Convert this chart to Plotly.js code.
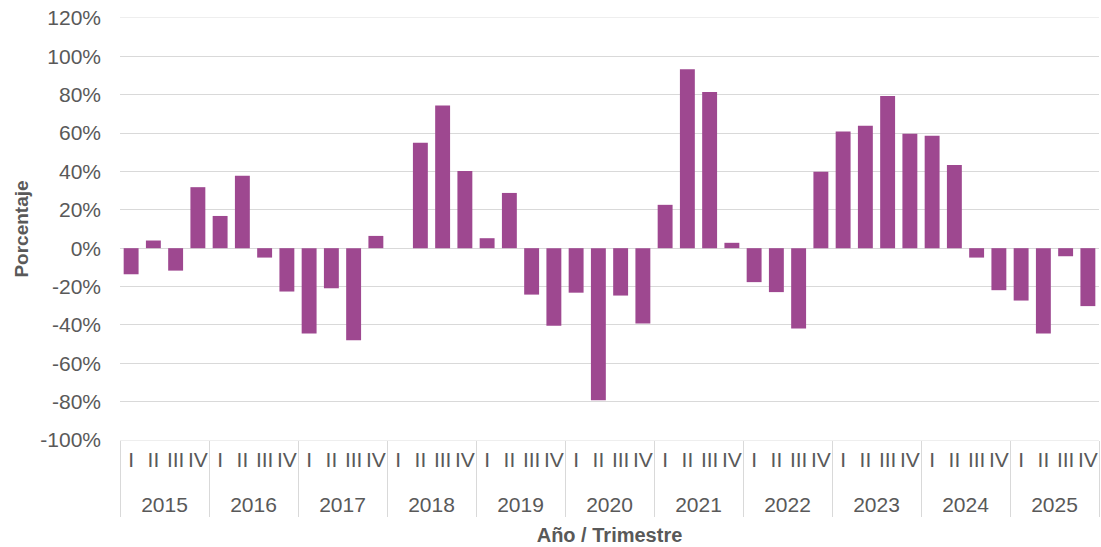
<!DOCTYPE html>
<html>
<head>
<meta charset="utf-8">
<script src="https://cdn.plot.ly/plotly-3.0.1.min.js"></script>
<style>html,body{margin:0;padding:0;background:#fff;}#chart{width:1101px;height:547px;}</style>
</head>
<body>
<div id="chart"></div>
<script>
var years = ['2015','2016','2017','2018','2019','2020','2021','2022','2023','2024','2025'];
var quarters = ['I','II','III','IV'];
var values2015 = [-13.6, 4.0, -11.7, 31.8];
var values2016 = [16.8, 37.7, -4.9, -22.6];
var values2017 = [-44.5, -20.9, -48.0, 6.4];
var values2018 = [0, 54.9, 74.4, 40.2];
var values2019 = [5.2, 28.8, -24.2, -40.4];
var values2020 = [-23.2, -79.3, -24.7, -39.3];
var values2021 = [22.6, 93.3, 81.4, 2.8];
var values2022 = [-17.7, -22.9, -41.9, 39.8];
var values2023 = [60.8, 63.8, 79.3, 59.6];
var values2024 = [58.6, 43.3, -4.9, -21.9];
var values2025 = [-27.3, -44.5, -4.2, -30.2];
var yTickVals = [-100, -80, -60, -40, -20, 0, 20, 40, 60, 80, 100, 120];

var yearlyValues = [values2015, values2016, values2017, values2018, values2019, values2020,
                    values2021, values2022, values2023, values2024, values2025];

function big(t) { return '<span style="font-size:21px">' + t + '</span>'; }

var xYears = [], xQuarters = [], yVals = [];
years.forEach(function(yr, i) {
  quarters.forEach(function(q, j) {
    xYears.push('<br>' + big(yr));
    xQuarters.push(big(q));
    yVals.push(yearlyValues[i][j]);
  });
});
var yTickText = yTickVals.map(function(v) { return v + '%'; });

var textColor = '#595959';
var fam = 'Liberation Sans, Arial, sans-serif';
var font = {family: fam, size: 21, color: textColor};

var trace = {
  type: 'bar',
  x: [xYears, xQuarters],
  y: yVals,
  marker: {color: 'rgb(158,72,144)', line: {width: 0}},
  hoverinfo: 'y'
};

var layout = {
  width: 1101,
  height: 547,
  margin: {l: 120, r: 2, t: 18, b: 107},
  paper_bgcolor: '#ffffff',
  plot_bgcolor: '#ffffff',
  font: font,
  bargap: 0.33,
  showlegend: false,
  xaxis: {
    type: 'multicategory',
    tickmode: 'linear',
    tick0: 0,
    dtick: 1,
    tickangle: 0,
    showgrid: false,
    showline: true,
    mirror: true,
    linecolor: '#eeeeee',
    linewidth: 1,
    showdividers: true,
    dividercolor: '#d9d9d9',
    dividerwidth: 1,
    ticks: '',
    ticklabelstandoff: 4,
    tickfont: {family: fam, size: 18.5, color: textColor},
    automargin: true,
    title: {text: 'Año / Trimestre', standoff: 12, font: {family: fam, size: 20, color: textColor, weight: 'bold'}}
  },
  yaxis: {
    range: [-100, 120],
    tickmode: 'array',
    tickvals: yTickVals,
    ticktext: yTickText,
    showgrid: true,
    gridcolor: '#d9d9d9',
    gridwidth: 1,
    zeroline: false,
    showline: false,
    ticks: '',
    ticklabelstandoff: 18,
    tickfont: font,
    automargin: true,
    title: {text: 'Porcentaje', standoff: 6, font: {family: fam, size: 19, color: textColor, weight: 'bold'}}
  }
};

Plotly.newPlot('chart', [trace], layout, {displayModeBar: false, staticPlot: true});
</script>
</body>
</html>
